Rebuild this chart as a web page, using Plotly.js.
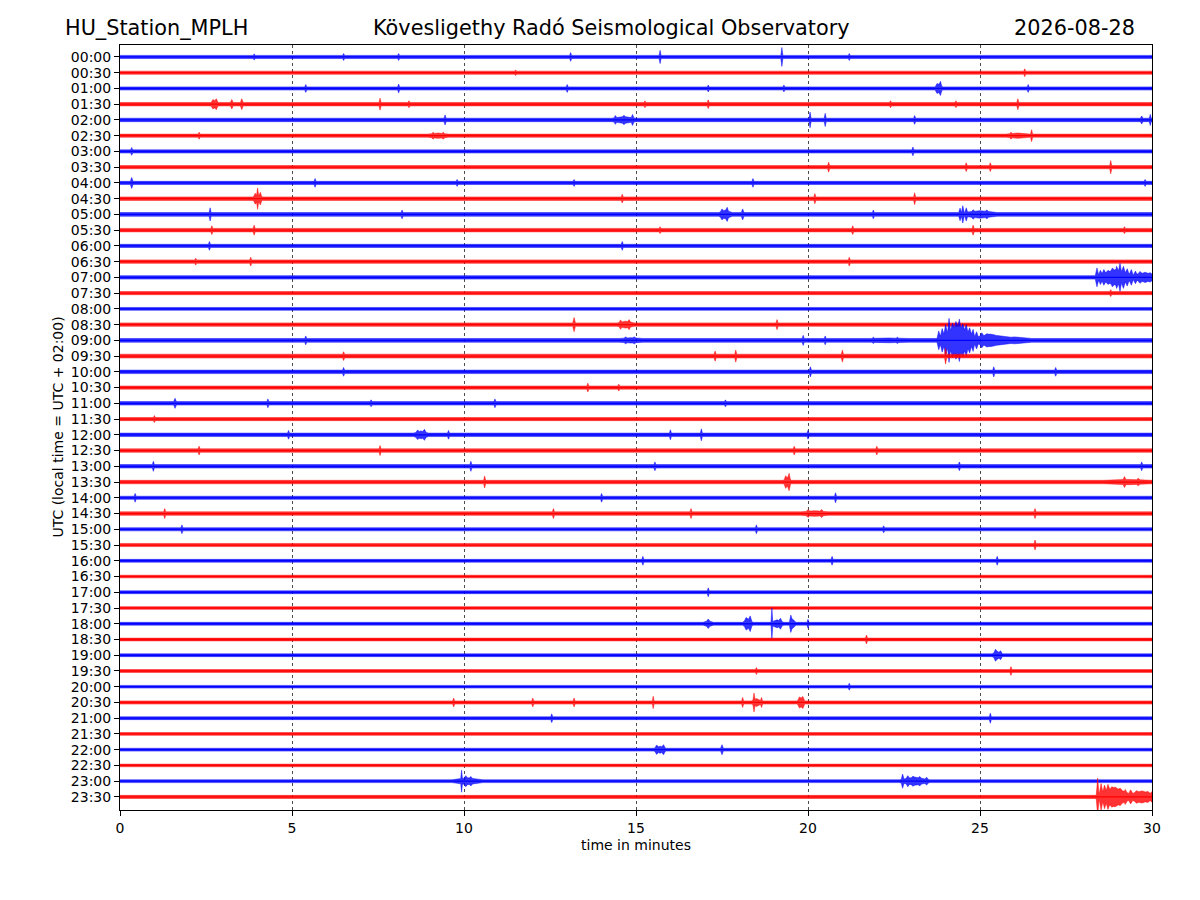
<!DOCTYPE html>
<html>
<head>
<meta charset="utf-8">
<script src="https://cdn.plot.ly/plotly-3.0.1.min.js"></script>
<style>
  html, body { margin: 0; padding: 0; background: #fff; }
  #chart { width: 1200px; height: 900px; }
</style>
</head>
<body>
<div id="chart"></div>
<script>
const stationName = "HU_Station_MPLH";
const observatory = "Kövesligethy Radó Seismological Observatory";
const dateLabel = "2026-08-28";

const rowLabels = ["00:00","00:30","01:00","01:30","02:00","02:30","03:00","03:30",
  "04:00","04:30","05:00","05:30","06:00","06:30","07:00","07:30",
  "08:00","08:30","09:00","09:30","10:00","10:30","11:00","11:30",
  "12:00","12:30","13:00","13:30","14:00","14:30","15:00","15:30",
  "16:00","16:30","17:00","17:30","18:00","18:30","19:00","19:30",
  "20:00","20:30","21:00","21:30","22:00","22:30","23:00","23:30"];

const rowColors = ["#0000ff", "#ff0000"]; // alternating traces

const xTicks = [0, 5, 10, 15, 20, 25, 30];

// background noise half-amplitude per row (in row spacings)
const baseAmp = [0.10,0.10,0.10,0.11,0.11,0.10,0.10,0.10,
  0.10,0.11,0.12,0.11,0.10,0.11,0.11,0.10,
  0.09,0.11,0.12,0.12,0.11,0.10,0.11,0.10,
  0.11,0.11,0.11,0.11,0.10,0.11,0.10,0.10,
  0.09,0.085,0.09,0.085,0.09,0.09,0.09,0.09,
  0.085,0.10,0.09,0.09,0.09,0.085,0.09,0.10];

// signal bursts per row: [minute, half-amplitude (row spacings), half-width (minutes)]
const events = [
  [[3.9,0.2,0.03],[6.5,0.22,0.03],[8.1,0.22,0.03],[13.1,0.28,0.03],[15.7,0.42,0.03],[19.24,0.6,0.03],[21.2,0.22,0.03]],
  [[11.5,0.18,0.03],[26.3,0.25,0.03]],
  [[5.4,0.25,0.03],[8.1,0.28,0.03],[13.0,0.25,0.03],[17.1,0.22,0.03],[19.3,0.22,0.03],[23.8,0.28,0.12],[23.75,0.32,0.04],[23.85,0.45,0.04],[26.4,0.25,0.03]],
  [[2.75,0.25,0.12],[2.7,0.3,0.04],[2.8,0.35,0.04],[3.25,0.3,0.04],[3.54,0.35,0.04],[7.56,0.38,0.03],[8.4,0.22,0.03],[15.26,0.22,0.03],[17.1,0.28,0.03],[22.4,0.22,0.03],[24.3,0.22,0.03],[26.1,0.35,0.03]],
  [[9.45,0.32,0.03],[14.65,0.22,0.35],[14.4,0.28,0.04],[14.65,0.3,0.04],[14.9,0.35,0.04],[20.06,0.5,0.03],[20.5,0.42,0.03],[23.1,0.28,0.03],[29.7,0.25,0.04],[29.95,0.35,0.03]],
  [[2.3,0.22,0.03],[9.25,0.17,0.3],[9.1,0.22,0.04],[9.4,0.22,0.04],[26.1,0.17,0.35],[25.9,0.22,0.04],[26.5,0.38,0.03]],
  [[0.34,0.25,0.03],[23.05,0.28,0.03]],
  [[20.6,0.32,0.03],[24.6,0.28,0.03],[25.3,0.28,0.03],[28.8,0.42,0.03]],
  [[0.34,0.35,0.04],[5.67,0.28,0.03],[9.8,0.22,0.03],[13.2,0.22,0.03],[18.4,0.28,0.03],[29.8,0.22,0.03]],
  [[4.0,0.25,0.15],[4.0,0.68,0.03],[3.93,0.35,0.04],[4.08,0.4,0.04],[14.6,0.28,0.03],[20.2,0.32,0.03],[23.1,0.38,0.03]],
  [[2.62,0.42,0.03],[8.2,0.28,0.03],[17.6,0.28,0.2],[17.5,0.35,0.05],[17.65,0.45,0.04],[18.1,0.35,0.04],[21.9,0.28,0.03],
   [24.5,0.55,0.04],[24.42,0.4,0.04],[24.6,0.42,0.04],[25.0,0.24,0.5],[24.8,0.3,0.05],[25.2,0.28,0.05]],
  [[2.67,0.28,0.03],[3.9,0.32,0.03],[15.7,0.22,0.03],[21.3,0.28,0.03],[24.8,0.32,0.03],[29.2,0.22,0.03]],
  [[2.6,0.28,0.03],[14.6,0.28,0.03]],
  [[2.2,0.22,0.03],[3.8,0.28,0.03],[21.2,0.28,0.03]],
  [[28.95,0.5,0.6],[29.8,0.3,0.45],
   [28.4,0.6,0.05],[28.5,0.45,0.05],[28.6,0.5,0.05],[28.72,0.45,0.05],[28.85,0.6,0.05],[28.97,0.7,0.05],[29.07,0.9,0.04],[29.17,0.7,0.05],[29.28,0.55,0.05],[29.4,0.5,0.05],[29.52,0.4,0.06],[29.65,0.38,0.06],[29.8,0.33,0.06],[29.95,0.3,0.06]],
  [[28.8,0.22,0.03]],
  [],
  [[13.2,0.45,0.04],[14.7,0.22,0.25],[14.55,0.3,0.04],[14.8,0.32,0.04],[19.1,0.32,0.03]],
  [[5.4,0.28,0.03],[14.85,0.17,0.35],[14.7,0.22,0.05],[14.95,0.22,0.05],[19.86,0.32,0.03],[20.5,0.28,0.03],[22.35,0.15,0.6],[21.9,0.2,0.04],[22.6,0.2,0.04],
   [24.35,0.95,0.6],[25.3,0.4,0.6],[26.0,0.22,0.5],
   [23.8,0.6,0.05],[23.9,0.75,0.05],[24.0,1.0,0.05],[24.1,1.4,0.04],[24.2,1.1,0.05],[24.3,1.2,0.05],[24.4,1.35,0.04],[24.5,1.05,0.05],[24.6,1.0,0.05],[24.7,0.8,0.05],[24.8,0.7,0.05],[24.9,0.55,0.06],[25.05,0.48,0.06],[25.2,0.42,0.07],[25.4,0.35,0.08]],
  [[6.5,0.28,0.03],[17.3,0.32,0.03],[17.9,0.38,0.03],[21.0,0.38,0.03],[24.0,0.5,0.03]],
  [[6.5,0.28,0.03],[20.07,0.32,0.03],[25.4,0.32,0.03],[27.2,0.28,0.03]],
  [[13.6,0.28,0.03],[14.5,0.22,0.03]],
  [[1.6,0.32,0.04],[4.3,0.28,0.03],[7.3,0.22,0.03],[10.9,0.28,0.03],[17.6,0.22,0.03]],
  [[1.0,0.22,0.03]],
  [[4.9,0.28,0.03],[8.75,0.25,0.22],[8.65,0.3,0.05],[8.85,0.35,0.05],[9.55,0.28,0.03],[16.0,0.32,0.03],[16.9,0.38,0.03],[20.0,0.28,0.03]],
  [[2.3,0.28,0.03],[7.56,0.32,0.03],[19.6,0.28,0.03],[22.0,0.28,0.03]],
  [[0.97,0.32,0.03],[10.2,0.32,0.03],[15.55,0.28,0.03],[24.4,0.28,0.03],[29.7,0.28,0.03]],
  [[10.6,0.38,0.03],[19.4,0.3,0.12],[19.35,0.4,0.04],[19.45,0.55,0.04],[29.3,0.17,0.7],[29.2,0.35,0.04],[29.6,0.24,0.05]],
  [[0.44,0.28,0.03],[14.0,0.28,0.03],[20.8,0.32,0.03]],
  [[1.3,0.32,0.03],[12.6,0.32,0.03],[16.6,0.32,0.03],[20.2,0.18,0.4],[20.0,0.25,0.05],[20.4,0.25,0.05],[26.6,0.32,0.03]],
  [[1.8,0.28,0.03],[18.5,0.28,0.03],[22.2,0.22,0.03]],
  [[26.6,0.32,0.03]],
  [[15.2,0.28,0.03],[20.7,0.28,0.03],[25.5,0.28,0.03]],
  [],
  [[17.1,0.28,0.03]],
  [],
  [[17.1,0.2,0.15],[17.1,0.3,0.05],[18.25,0.32,0.15],[18.2,0.4,0.05],[18.32,0.5,0.05],[18.95,1.0,0.025],[19.1,0.25,0.2],[19.2,0.35,0.05],[19.5,0.55,0.04],[19.55,0.3,0.1],[20.0,0.28,0.03]],
  [[21.7,0.28,0.03]],
  [[25.5,0.25,0.15],[25.45,0.38,0.05],[25.6,0.28,0.05]],
  [[18.5,0.22,0.03],[25.9,0.28,0.03]],
  [[21.2,0.22,0.03]],
  [[9.7,0.28,0.03],[12.0,0.28,0.03],[13.2,0.28,0.03],[15.5,0.4,0.025],[18.1,0.32,0.03],[18.43,0.6,0.03],[18.5,0.25,0.15],[18.65,0.32,0.03],[19.8,0.28,0.12],[19.75,0.35,0.05],[19.85,0.38,0.05]],
  [[12.55,0.28,0.03],[25.3,0.32,0.03]],
  [],
  [[15.7,0.22,0.18],[15.6,0.3,0.05],[15.8,0.32,0.05],[17.5,0.32,0.04]],
  [],
  [[10.1,0.22,0.45],[9.93,0.7,0.025],[10.05,0.35,0.05],[10.2,0.3,0.05],[23.1,0.26,0.45],[22.75,0.45,0.04],[22.9,0.35,0.05],[23.05,0.32,0.05],[23.25,0.3,0.05],[23.45,0.25,0.05]],
  [[28.9,0.62,0.55],[29.7,0.38,0.5],
   [28.42,1.2,0.04],[28.52,0.85,0.05],[28.62,0.75,0.05],[28.72,0.8,0.05],[28.83,0.65,0.05],[28.95,0.6,0.05],[29.08,0.55,0.06],[29.22,0.48,0.06],[29.38,0.45,0.06],[29.55,0.4,0.07],[29.72,0.38,0.07],[29.88,0.35,0.07],[30.0,0.33,0.06]]
];

// ---- build traces ----
const T0 = 0, T1 = 30;
function envAt(x, base, ev) {
  let e = base;
  for (const [t, a, w] of ev) {
    const d = Math.abs(x - t);
    if (d < w) e = Math.max(e, base + (a - base) * (1 - d / w));
  }
  return e;
}
function hexToRgba(hex, a) {
  const r = parseInt(hex.slice(1, 3), 16), g = parseInt(hex.slice(3, 5), 16), b = parseInt(hex.slice(5, 7), 16);
  return `rgba(${r},${g},${b},${a})`;
}

const traces = [];
rowLabels.forEach((lab, i) => {
  const ev = events[i];
  const base = baseAmp[i];
  let xs = [T0, T1];
  ev.forEach(([t, a, w]) => { xs.push(t - w, t, t + w); });
  xs = xs.map(v => Math.round(v * 10000) / 10000)
         .filter(v => v >= T0 && v <= T1).sort((p, q) => p - q);
  xs = xs.filter((v, k, arr) => k === 0 || v !== arr[k - 1]);
  const env = xs.map(x => envAt(x, base, ev));
  const up = xs.map((x, k) => i - env[k]);
  const dn = xs.map((x, k) => i + env[k]);
  const col = rowColors[i % 2];
  traces.push({
    type: 'scatter', mode: 'lines',
    x: xs.concat(xs.slice().reverse()),
    y: up.concat(dn.slice().reverse()),
    fill: 'toself', fillcolor: hexToRgba(col, 0.8),
    line: { color: hexToRgba(col, 0.9), width: 0.5, simplify: false },
    hoverinfo: 'skip', showlegend: false
  });
  traces.push({
    type: 'scatter', mode: 'lines',
    x: [T0, T1], y: [i, i],
    line: { color: col, width: 1.3, simplify: false },
    hoverinfo: 'skip', showlegend: false
  });
});

const font = "DejaVu Sans, Arial, sans-serif";
const rowIdx = rowLabels.map((_, i) => i);

const layout = {
  width: 1200, height: 900,
  margin: { l: 120, r: 48, t: 45, b: 90, pad: 0 },
  paper_bgcolor: '#ffffff', plot_bgcolor: '#ffffff',
  showlegend: false,
  font: { family: font, color: '#000', size: 14 },
  xaxis: {
    range: [0, 30], tickvals: xTicks, ticktext: xTicks.map(String),
    ticks: 'outside', ticklen: 5, tickwidth: 1, tickcolor: '#000',
    showline: true, linecolor: '#000', linewidth: 1, mirror: true,
    showgrid: true, gridcolor: '#000', griddash: 'dot', gridwidth: 0.7,
    zeroline: false, tickfont: { family: font, size: 14, color: '#000' }
  },
  yaxis: {
    range: [47.83, -0.76], tickvals: rowIdx, ticktext: rowLabels,
    ticks: 'outside', ticklen: 5, tickwidth: 1, tickcolor: '#000',
    showline: true, linecolor: '#000', linewidth: 1, mirror: true,
    showgrid: false, zeroline: false,
    tickfont: { family: font, size: 14, color: '#000' }
  },
  annotations: [
    { text: stationName, xref: 'paper', yref: 'paper', x: -0.0552, y: 1.0225,
      xanchor: 'left', yanchor: 'middle', showarrow: false, font: { family: font, size: 20.8, color: '#000' } },
    { text: observatory, xref: 'paper', yref: 'paper', x: 0.4758, y: 1.0225,
      xanchor: 'center', yanchor: 'middle', showarrow: false, font: { family: font, size: 20.8, color: '#000' } },
    { text: dateLabel, xref: 'paper', yref: 'paper', x: 0.9855, y: 1.0225,
      xanchor: 'right', yanchor: 'middle', showarrow: false, font: { family: font, size: 20.8, color: '#000' } },
    { text: 'time in minutes', xref: 'paper', yref: 'paper', x: 0.5, y: -0.0458,
      xanchor: 'center', yanchor: 'middle', showarrow: false, font: { family: font, size: 14, color: '#000' } },
    { text: 'UTC (local time = UTC + 02:00)', xref: 'paper', yref: 'paper', x: -0.061, y: 0.5,
      xanchor: 'center', yanchor: 'middle', textangle: -90, showarrow: false, font: { family: font, size: 14, color: '#000' } }
  ]
};

Plotly.newPlot('chart', traces, layout, { staticPlot: true, displayModeBar: false });
</script>
</body>
</html>
